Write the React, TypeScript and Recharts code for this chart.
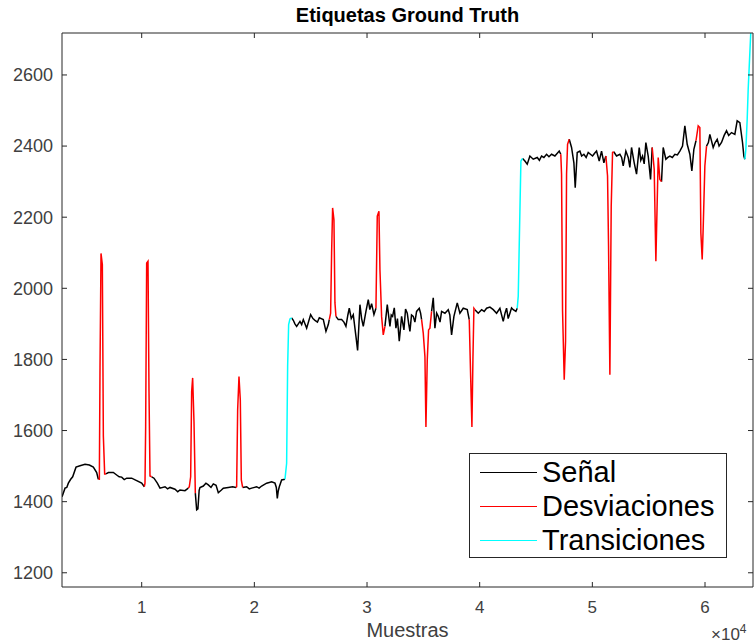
import React from "react";
import { LineChart, Line, XAxis, YAxis } from "recharts";

type Pt = [number, number];

// Señal (black) pieces, sample index vs value
const senal: Pt[][] = [
  [[2930, 1414], [3194, 1438], [3350, 1440], [3490, 1452], [3697, 1463], [3874, 1470], [4170, 1497], [4525, 1501], [4969, 1505], [5353, 1503], [5708, 1497], [6004, 1482], [6152, 1463]],
  [[6833, 1478], [7040, 1482], [7483, 1482], [7779, 1475], [8000, 1470], [8223, 1469], [8450, 1462], [8667, 1466], [9110, 1466], [9554, 1459], [9998, 1452], [10234, 1442]],
  [[10885, 1470], [11092, 1466], [11388, 1452], [11624, 1438], [12068, 1442], [12300, 1436], [12512, 1440], [12956, 1435], [13200, 1428], [13399, 1433], [13843, 1431], [14139, 1438]],
  [[14760, 1424], [14879, 1377], [14990, 1380], [15100, 1432], [15174, 1440], [15470, 1444], [15700, 1452], [15914, 1447], [16150, 1440], [16357, 1450], [16600, 1446], [16801, 1425], [17050, 1432], [17245, 1438], [17688, 1440], [18073, 1442], [18369, 1440]],
  [[18960, 1440], [19315, 1442], [19550, 1436], [19759, 1438], [20202, 1442], [20420, 1438], [20646, 1444], [21090, 1452], [21534, 1456], [21830, 1452], [21950, 1440], [22037, 1409], [22120, 1430], [22214, 1442], [22421, 1461], [22717, 1463]],
  [[23309, 1917], [23457, 1910], [23600, 1900], [23753, 1893], [24049, 1907], [24200, 1898], [24345, 1912], [24641, 1888], [24996, 1926], [25200, 1915], [25381, 1910], [25600, 1905], [25766, 1917], [26119, 1912], [26355, 1879], [26562, 1898], [26650, 1912]],
  [[27242, 1921], [27449, 1912], [27745, 1912], [27950, 1905], [28129, 1893], [28300, 1925], [28425, 1944], [28600, 1915], [28780, 1926], [29017, 1865], [29165, 1825], [29372, 1954], [29520, 1915], [29668, 1893], [29904, 1935], [30111, 1968], [30250, 1940], [30407, 1957], [30614, 1926], [30792, 1944]],
  [[31590, 1893], [31797, 1954], [32034, 1893], [32150, 1925], [32270, 1921], [32420, 1945], [32566, 1888], [32700, 1915], [32862, 1851], [33069, 1921], [33276, 1883], [33420, 1942], [33572, 1930], [33700, 1900], [33809, 1879], [33950, 1925], [34105, 1921], [34250, 1905], [34400, 1935], [34637, 1944], [34755, 1930], [34844, 1912]],
  [[35731, 1935], [35879, 1973], [36027, 1888], [36180, 1930], [36323, 1921], [36480, 1905], [36619, 1935], [36915, 1930], [37210, 1940], [37350, 1925], [37506, 1869], [37713, 1921], [38009, 1959], [38246, 1930], [38542, 1944], [38897, 1940], [39074, 1912]],
  [[39577, 1940], [39873, 1930], [40169, 1940], [40400, 1935], [40613, 1944], [40908, 1947], [41204, 1940], [41500, 1930], [41796, 1944], [42091, 1907], [42250, 1930], [42387, 1944], [42530, 1915], [42683, 1930], [42830, 1945], [42979, 1940], [43215, 1935], [43333, 1944]],
  [[43807, 2365], [44014, 2358], [44221, 2349], [44457, 2372], [44753, 2363], [45108, 2368], [45300, 2360], [45493, 2372], [45700, 2368], [45936, 2377], [46150, 2370], [46380, 2377], [46676, 2372], [47060, 2386], [47200, 2377]],
  [[47948, 2419], [48155, 2396], [48362, 2353], [48480, 2283], [48658, 2382], [48894, 2386], [49050, 2372], [49249, 2377], [49450, 2368], [49634, 2382], [50018, 2372], [50200, 2380], [50373, 2386], [50610, 2358], [50817, 2386], [51024, 2353], [51202, 2372]],
  [[51900, 2384], [52148, 2372], [52444, 2377], [52600, 2368], [52740, 2344], [52976, 2386], [53183, 2368], [53330, 2340], [53479, 2396], [53716, 2353], [53923, 2321], [54160, 2396], [54300, 2360], [54456, 2372], [54600, 2350], [54751, 2410], [54958, 2372], [55166, 2306], [55313, 2396]],
  [[56140, 2300], [56289, 2396], [56526, 2363], [56700, 2368], [56881, 2372], [57100, 2368], [57325, 2377], [57550, 2375], [57768, 2386], [58005, 2400], [58212, 2457], [58419, 2405], [58656, 2377], [58833, 2330], [59011, 2391], [59200, 2415]],
  [[60135, 2400], [60300, 2410], [60430, 2433], [60726, 2396], [60900, 2410], [61081, 2419], [61250, 2400], [61466, 2410], [61700, 2430], [61909, 2443], [62100, 2430], [62353, 2438], [62649, 2433], [62856, 2471], [63093, 2466], [63329, 2410], [63448, 2372], [63537, 2363]],
];

// Desviaciones (red) pieces
const desviaciones: Pt[][] = [
  [[6152, 1463], [6241, 1463], [6300, 1778], [6389, 2098], [6507, 2067], [6596, 1585], [6714, 1478], [6833, 1478]],
  [[10234, 1442], [10293, 1452], [10352, 1611], [10441, 2071], [10559, 2076], [10648, 1710], [10737, 1472], [10885, 1470]],
  [[14139, 1438], [14227, 1442], [14346, 1470], [14435, 1710], [14523, 1748], [14642, 1625], [14760, 1424]],
  [[18369, 1440], [18428, 1442], [18517, 1658], [18635, 1752], [18753, 1686], [18842, 1461], [18960, 1440]],
  [[26650, 1912], [26769, 1930], [26857, 2099], [26946, 2226], [27064, 2193], [27153, 1959], [27242, 1921]],
  [[30792, 1944], [30910, 2203], [31058, 2217], [31147, 2052], [31294, 1921], [31442, 1869], [31590, 1893]],
  [[34844, 1912], [34992, 1874], [35140, 1808], [35229, 1610], [35347, 1799], [35465, 1883], [35583, 1888], [35731, 1935]],
  [[39074, 1912], [39200, 1750], [39311, 1610], [39400, 1800], [39488, 1944], [39577, 1940]],
  [[47200, 2377], [47267, 2321], [47356, 1936], [47504, 1743], [47622, 1851], [47711, 2321], [47800, 2405], [47948, 2419]],
  [[51202, 2372], [51349, 2316], [51438, 2119], [51557, 1757], [51675, 2231], [51793, 2382], [51900, 2384]],
  [[55313, 2396], [55491, 2335], [55639, 2076], [55728, 2203], [55846, 2368], [55993, 2306], [56140, 2300]],
  [[59200, 2415], [59396, 2457], [59543, 2452], [59632, 2156], [59750, 2081], [59839, 2170], [59987, 2344], [60135, 2400]],
];

// Transiciones (cyan) pieces
const transiciones: Pt[][] = [
  [[22717, 1463], [22865, 1508], [22954, 1780], [23043, 1898], [23161, 1914], [23309, 1917]],
  [[43333, 1944], [43422, 1978], [43570, 2217], [43659, 2358], [43807, 2365]],
  [[63537, 2363], [63625, 2391], [63744, 2475], [63833, 2560], [64060, 2718]],
];

const xTicks = [10000, 20000, 30000, 40000, 50000, 60000];
const yTicks = [1200, 1400, 1600, 1800, 2000, 2200, 2400, 2600];

const toRows = (pieces: Pt[][]) => {
  const rows: { x: number; y: number | null }[] = [];
  pieces.forEach(p => {
    p.forEach(([x, y]) => rows.push({ x, y }));
    rows.push({ x: p[p.length - 1][0], y: null });
  });
  return rows;
};

const FONT = '"Liberation Sans", Arial, sans-serif';
const AXIS = "#262626";

export default function App() {
  return (
    <div style={{ position: "absolute", left: 0, top: 0, width: 755, height: 644, background: "#fff", fontFamily: FONT }}>
      <LineChart width={755} height={644} margin={{ top: 32, right: 1, bottom: 27, left: 0 }}>
        <XAxis
          dataKey="x"
          type="number"
          domain={[2926, 64260]}
          allowDataOverflow
          ticks={xTicks}
          interval={0}
          tickFormatter={(v: number) => String(v / 10000)}
          tickSize={-5}
          tickMargin={19}
          height={30}
          stroke={AXIS}
          tick={{ fill: "#404040", fontSize: 17, fontFamily: FONT }}
        />
        <XAxis
          xAxisId="top"
          orientation="top"
          dataKey="x"
          type="number"
          domain={[2926, 64260]}
          allowDataOverflow
          ticks={xTicks}
          interval={0}
          tickFormatter={() => ""}
          tickSize={-5}
          height={1}
          stroke={AXIS}
        />
        <YAxis
          type="number"
          domain={[1160, 2718]}
          allowDataOverflow
          ticks={yTicks}
          interval={0}
          tickSize={-5}
          tickMargin={14}
          width={62}
          stroke={AXIS}
          tick={{ fill: "#404040", fontSize: 18, fontFamily: FONT }}
        />
        <YAxis
          yAxisId="right"
          orientation="right"
          type="number"
          domain={[1160, 2718]}
          allowDataOverflow
          ticks={yTicks}
          interval={0}
          tickFormatter={() => ""}
          tickSize={-5}
          width={1}
          stroke={AXIS}
        />
        <Line data={toRows(senal)} dataKey="y" type="linear" stroke="#000000" strokeWidth={1.5} dot={false} isAnimationActive={false} />
        <Line data={toRows(desviaciones)} dataKey="y" type="linear" stroke="#ff0000" strokeWidth={1.5} dot={false} isAnimationActive={false} />
        <Line data={toRows(transiciones)} dataKey="y" type="linear" stroke="#00ffff" strokeWidth={1.5} dot={false} isAnimationActive={false} />
      </LineChart>

      <div style={{ position: "absolute", left: 62, width: 691, top: 4, textAlign: "center", fontWeight: "bold", fontSize: 20, color: "#000" }}>
        Etiquetas Ground Truth
      </div>
      <div style={{ position: "absolute", left: 62, width: 691, top: 619, textAlign: "center", fontSize: 20, color: "#404040" }}>
        Muestras
      </div>
      <div style={{ position: "absolute", left: 711, top: 622, fontSize: 17, color: "#404040" }}>
        ×10<sup style={{ fontSize: 12 }}>4</sup>
      </div>

      <div style={{ position: "absolute", left: 469, top: 453, width: 256, height: 103, border: "1px solid #262626", background: "#fff" }}>
        {[
          { name: "Señal", color: "#000000" },
          { name: "Desviaciones", color: "#ff0000" },
          { name: "Transiciones", color: "#00ffff" },
        ].map((it, i) => (
          <div key={it.name} style={{ position: "absolute", left: 10, top: 2 + i * 34, height: 32, display: "flex", alignItems: "center" }}>
            <div style={{ width: 57, height: 1, background: it.color }} />
            <span style={{ marginLeft: 5, fontSize: 29, color: "#000", whiteSpace: "nowrap" }}>{it.name}</span>
          </div>
        ))}
      </div>
    </div>
  );
}
